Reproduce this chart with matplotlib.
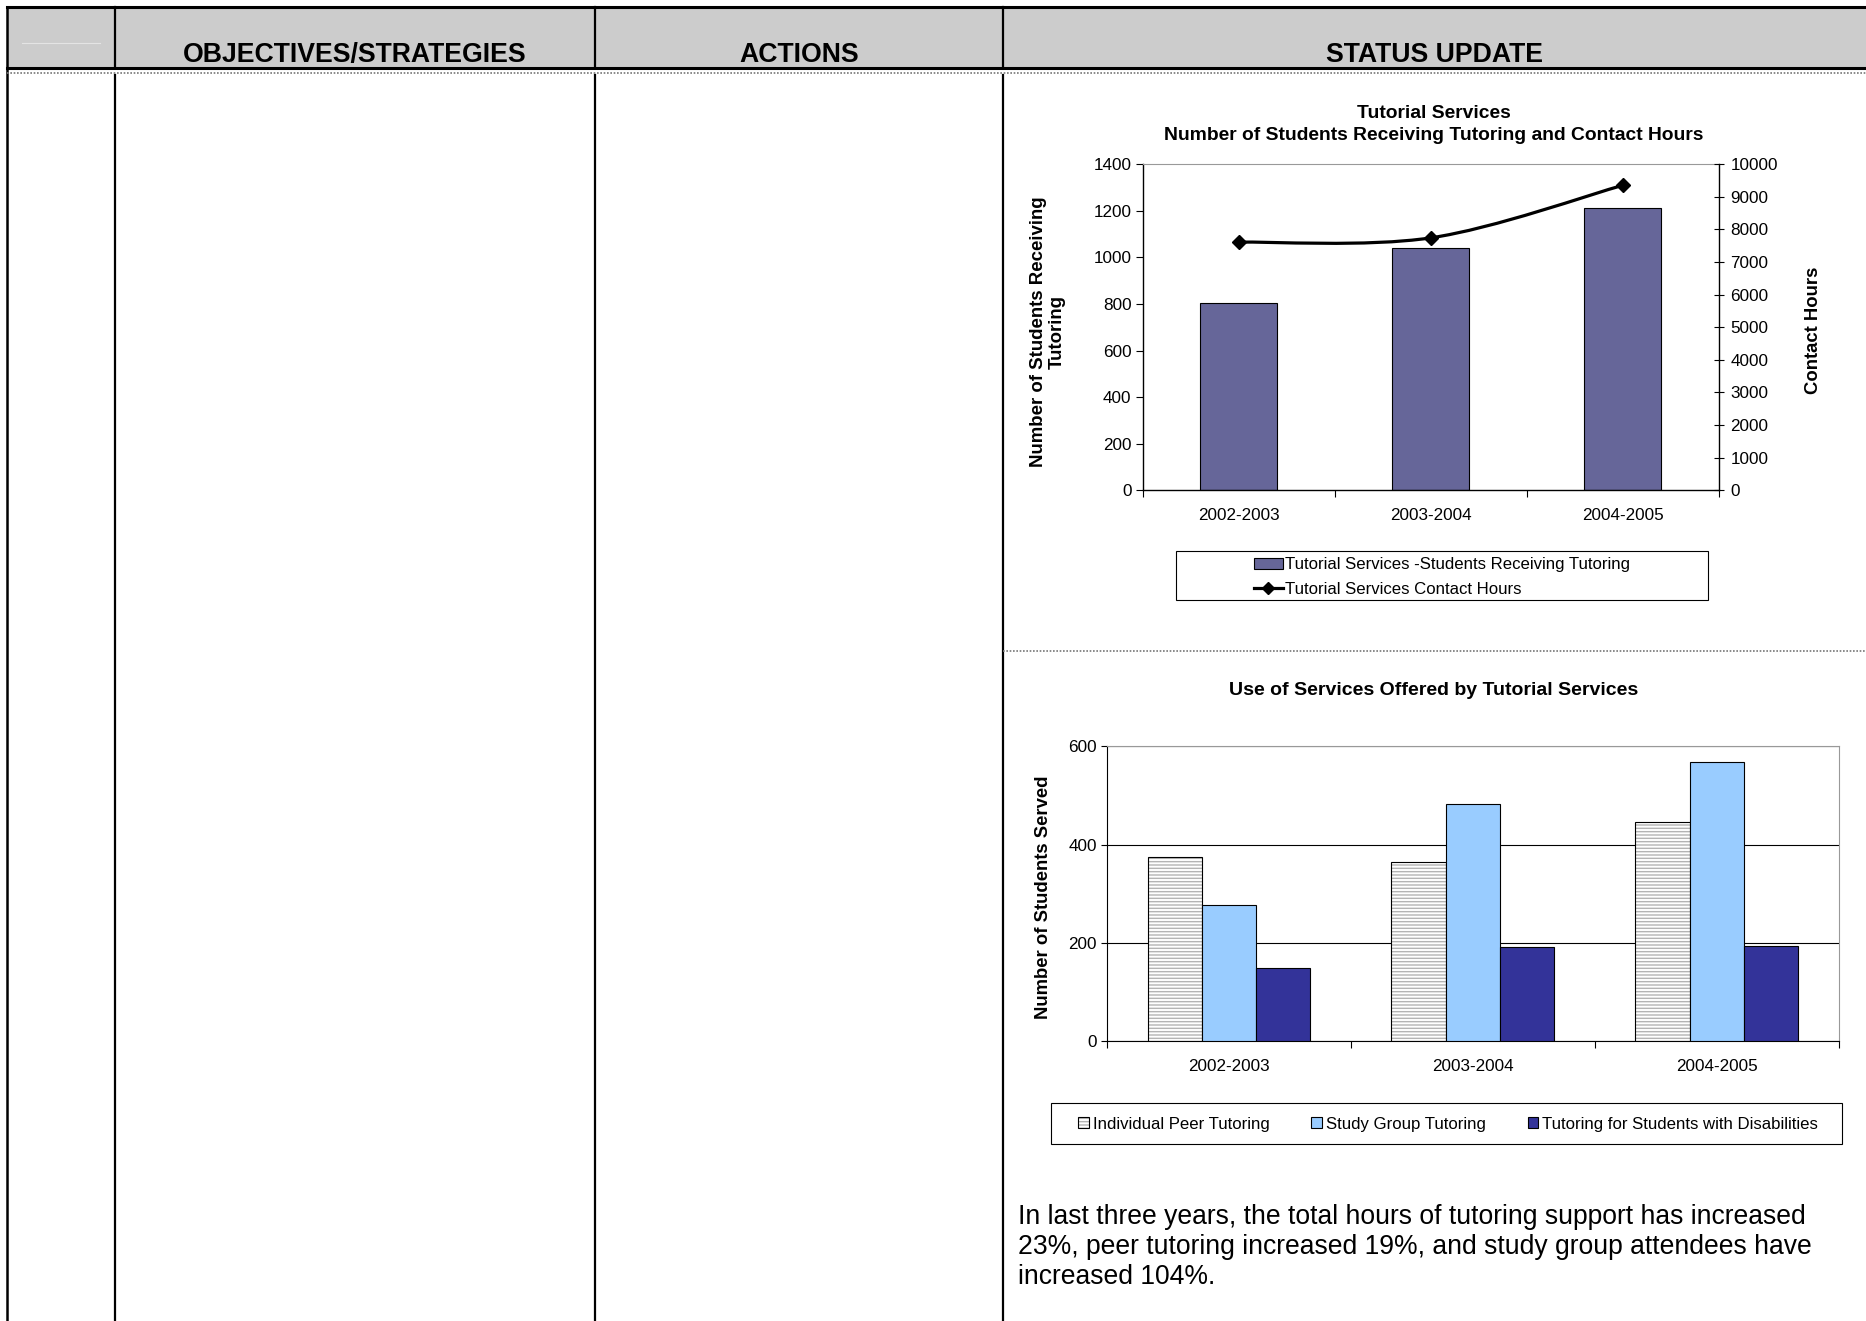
import matplotlib.pyplot as plt
import numpy as np
from matplotlib.patches import Rectangle, Patch, PathPatch
from matplotlib.lines import Line2D
from matplotlib.path import Path
from matplotlib.legend_handler import HandlerTuple

plt.rcParams['font.family'] = ['Liberation Sans', 'DejaVu Sans']
plt.rcParams['hatch.linewidth'] = 1.0

W, H = 1866, 1321

header_labels = ["OBJECTIVES/STRATEGIES", "ACTIONS", "STATUS UPDATE"]

years = ["2002-2003", "2003-2004", "2004-2005"]
students_tutored = [805, 1040, 1210]
contact_hours = [7610, 7740, 9350]

services = ["Individual Peer Tutoring", "Study Group Tutoring",
            "Tutoring for Students with Disabilities"]
peer_tutoring = [375, 365, 446]
study_group = [278, 483, 567]
disabilities = [150, 192, 194]

summary_lines = [
    "In last three years, the total hours of tutoring support has increased",
    "23%, peer tutoring increased 19%, and study group attendees have",
    "increased 104%.",
]


def frac_rect(x0, y0, x1, y1):
    # pixel box (top-left origin) -> figure fractions
    return [x0 / W, 1 - y1 / H, (x1 - x0) / W, (y1 - y0) / H]


fig = plt.figure(figsize=(W / 100, H / 100), dpi=100)

# ---- table frame drawn in pixel coordinates
bg = fig.add_axes([0, 0, 1, 1], zorder=0)
bg.set_xlim(0, W)
bg.set_ylim(H, 0)
bg.axis('off')

bg.add_patch(Rectangle((7, 7), W, 61, facecolor='#cccccc', edgecolor='none'))
bg.plot([7, W], [7, 7], color='black', lw=2.2)
bg.plot([7, W], [68, 68], color='black', lw=2.2)
bg.plot([7, 7], [7, H], color='black', lw=1.8)
for cx in [115, 595, 1003]:
    bg.plot([cx, cx], [7, 68], color='black', lw=1.6)
    bg.plot([cx, cx], [75, H], color='black', lw=1.6)
bg.plot([22, 100], [43, 43], color='#e4e4e4', lw=0.8)
bg.plot([7, W], [73, 73], color='#777777', lw=1.2, ls=(0, (1, 1)))
bg.plot([1003, W], [651, 651], color='#777777', lw=1.2, ls=(0, (1, 1)))

for lab, cx in zip(header_labels, [355, 799, 1434]):
    bg.text(cx, 62, lab, ha='center', va='baseline', fontsize=19.2, fontweight='bold')

# ---- chart 1: students receiving tutoring + contact hours
bg.text(1434, 113, "Tutorial Services", ha='center', va='center',
        fontsize=13.9, fontweight='bold')
bg.text(1434, 135.5, "Number of Students Receiving Tutoring and Contact Hours",
        ha='center', va='center', fontsize=13.9, fontweight='bold')

ax1 = fig.add_axes(frac_rect(1142.5, 164.2, 1718.5, 490.3), zorder=2)
x = np.arange(len(years))
ax1.bar(x, students_tutored, width=0.4, color='#666699', edgecolor='black', lw=0.8)
ax1.set_xlim(-0.5, 2.5)
ax1.set_ylim(0, 1400)
ax1.set_yticks(range(0, 1401, 200))
ax1.set_xticks(np.arange(-0.5, 3, 1))
ax1.set_xticklabels([])
ax1.set_xticks(x, minor=True)
ax1.set_xticklabels(years, minor=True)
ax1.tick_params(axis='x', which='major', direction='out', length=5, width=0.8)
ax1.tick_params(axis='x', which='minor', length=0, pad=13, labelsize=12.3)
ax1.tick_params(axis='y', direction='out', length=5, width=0.8, pad=3, labelsize=12.3)
ax1.spines['top'].set_color('#999999')
ax1.spines['right'].set_visible(False)
for s in ['left', 'bottom']:
    ax1.spines[s].set_linewidth(1.0)

ax2 = ax1.twinx()
ax2.set_ylim(0, 10000)
ax2.set_yticks(range(0, 10001, 1000))
ax2.tick_params(axis='y', direction='inout', length=7, width=0.8, pad=5, labelsize=12.3)
for s in ['top', 'left', 'bottom']:
    ax2.spines[s].set_visible(False)
ax2.spines['right'].set_linewidth(1.0)

# smoothed line (Catmull-Rom as Bezier, like the spreadsheet's smoothing)
pts = np.column_stack([x, contact_hours]).astype(float)
ext = np.vstack([pts[0], pts, pts[-1]])
verts = [pts[0]]
codes = [Path.MOVETO]
for i in range(len(pts) - 1):
    p0, p1, p2, p3 = ext[i], ext[i + 1], ext[i + 2], ext[i + 3]
    verts += [p1 + (p2 - p0) / 6, p2 - (p3 - p1) / 6, p2]
    codes += [Path.CURVE4] * 3
ax2.add_patch(PathPatch(Path(verts, codes), fill=False, edgecolor='black', lw=2.3))
ax2.plot(x, contact_hours, ls='none', marker='D', ms=7.5, color='black')

bg.text(1048, 332, "Number of Students Receiving\nTutoring", rotation=90,
        ha='center', va='center', multialignment='center',
        fontsize=13.4, fontweight='bold', linespacing=1.1)
bg.text(1814, 330, "Contact Hours", rotation=90, ha='center', va='center',
        fontsize=13.3, fontweight='bold')

bg.add_patch(Rectangle((1176, 551), 532, 49, facecolor='white',
                       edgecolor='black', lw=0.8, zorder=3))
h1 = [Patch(facecolor='#666699', edgecolor='black', lw=0.8),
      Line2D([], [], color='black', lw=2.3, marker='D', ms=6.5)]
fig.legend(h1, ["Tutorial Services -Students Receiving Tutoring",
                "Tutorial Services Contact Hours"],
           loc='center', bbox_to_anchor=(1442 / W, 1 - 577 / H),
           frameon=False, fontsize=12.1, handlelength=1.7, handleheight=0.6,
           handletextpad=0.15, labelspacing=0.58, borderpad=0)

# ---- chart 2: use of services
bg.text(1434, 690.5, "Use of Services Offered by Tutorial Services", ha='center',
        va='center', fontsize=14, fontweight='bold')

ax3 = fig.add_axes(frac_rect(1106.8, 746.2, 1838.6, 1041.3), zorder=2)
bw = 0.222
ax3.bar(x - bw, peer_tutoring, width=bw, color='white', edgecolor='#b4b4b4',
        hatch='-----', lw=0, zorder=2)
ax3.bar(x - bw, peer_tutoring, width=bw, fill=False, edgecolor='black', lw=0.8, zorder=3)
ax3.bar(x, study_group, width=bw, color='#99CCFF', edgecolor='black', lw=0.8, zorder=3)
ax3.bar(x + bw, disabilities, width=bw, color='#333399', edgecolor='black', lw=0.8, zorder=3)
ax3.set_xlim(-0.5, 2.5)
ax3.set_ylim(0, 600)
ax3.set_yticks(range(0, 601, 200))
ax3.grid(axis='y', color='black', lw=0.8, zorder=1)
ax3.set_axisbelow(True)
ax3.set_xticks(np.arange(-0.5, 3, 1))
ax3.set_xticklabels([])
ax3.set_xticks(x, minor=True)
ax3.set_xticklabels(years, minor=True)
ax3.tick_params(axis='x', which='major', direction='out', length=5, width=0.8)
ax3.tick_params(axis='x', which='minor', length=0, pad=12.5, labelsize=12.3)
ax3.tick_params(axis='y', direction='out', length=4, width=0.8, pad=3, labelsize=12.3)
ax3.spines['top'].set_color('#999999')
ax3.spines['right'].set_color('#999999')

bg.text(1044, 897, "Number of Students Served", rotation=90, ha='center',
        va='center', fontsize=13.3, fontweight='bold')

bg.add_patch(Rectangle((1051, 1103), 791, 41, facecolor='white',
                       edgecolor='black', lw=0.8, zorder=3))
h2 = [(Patch(facecolor='white', edgecolor='#b4b4b4', hatch='-----', lw=0),
       Patch(fill=False, edgecolor='black', lw=0.8)),
      Patch(facecolor='#99CCFF', edgecolor='black', lw=0.8),
      Patch(facecolor='#333399', edgecolor='black', lw=0.8)]
fig.legend(h2, services, loc='center', bbox_to_anchor=(1448 / W, 1 - 1124 / H),
           ncol=3, frameon=False, fontsize=12.1, handlelength=0.65,
           handleheight=0.65, handletextpad=0.2, columnspacing=2.5, borderpad=0,
           handler_map={tuple: HandlerTuple(ndivide=1)})

# ---- summary paragraph
for i, line in enumerate(summary_lines):
    bg.text(1017.5, 1216.5 + 30.5 * i, line, ha='left', va='center', fontsize=19.1)

fig.savefig('out.png', dpi=100)
